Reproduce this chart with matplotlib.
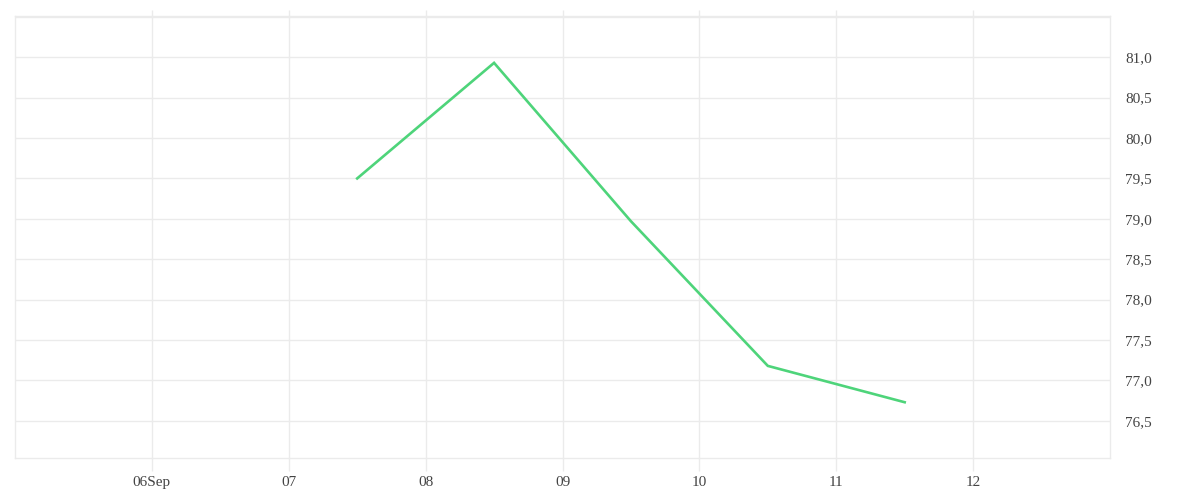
import matplotlib
matplotlib.use("Agg")
import matplotlib.pyplot as plt
import matplotlib.dates as mdates
from matplotlib.ticker import FuncFormatter, FixedLocator
import datetime as dt

# Data
times = ["2023-09-07 12:00", "2023-09-08 12:00", "2023-09-09 12:00",
         "2023-09-10 12:00", "2023-09-11 12:00"]
values = [79.5, 80.93, 78.97, 77.18, 76.73]
tick_dates = ["2023-09-06", "2023-09-07", "2023-09-08", "2023-09-09",
              "2023-09-10", "2023-09-11", "2023-09-12"]
tick_labels = ["06Sep", "07", "08", "09", "10", "11", "12"]
y_ticks = [76.5, 77.0, 77.5, 78.0, 78.5, 79.0, 79.5, 80.0, 80.5, 81.0, 81.5]

plt.rcParams['font.family'] = ['Liberation Serif', 'DejaVu Serif']

grid_c = "#ebebeb"
line_c = "#4ed47a"
text_c = "#444444"

fig = plt.figure(figsize=(12, 5), dpi=100)
ax = fig.add_axes([15/1200, 42/500, 1095/1200, 442/500])

x = [dt.datetime.strptime(t, "%Y-%m-%d %H:%M") for t in times]
ax.plot(x, values, color=line_c, lw=1.9, solid_joinstyle='miter')

ax.set_xlim(dt.datetime(2023, 9, 5), dt.datetime(2023, 9, 13))
ax.set_ylim(76.04, 81.51)

xt = [mdates.date2num(dt.datetime.strptime(d, "%Y-%m-%d")) for d in tick_dates]
ax.xaxis.set_major_locator(FixedLocator(xt))
ax.set_xticklabels(tick_labels)
ax.yaxis.set_major_locator(FixedLocator(y_ticks))

def yfmt(v, pos):
    if v > 81.2:
        return ""
    return f"{v:.1f}".replace(".", ",")
ax.yaxis.set_major_formatter(FuncFormatter(yfmt))

ax.yaxis.tick_right()
ax.grid(True, color=grid_c, lw=1)
ax.set_axisbelow(True)
for s in ax.spines.values():
    s.set_color(grid_c)
    s.set_linewidth(1)

ax.tick_params(axis='x', direction='out', length=9, width=1, color=grid_c,
               labelsize=11, labelcolor=text_c, pad=4, top=True)
ax.tick_params(axis='y', length=0, labelsize=11, labelcolor=text_c, pad=11)

# short top ticks
for t in ax.xaxis.get_major_ticks():
    t.tick2line.set_markersize(4)

fig.savefig("out.png", dpi=100, facecolor="white")
